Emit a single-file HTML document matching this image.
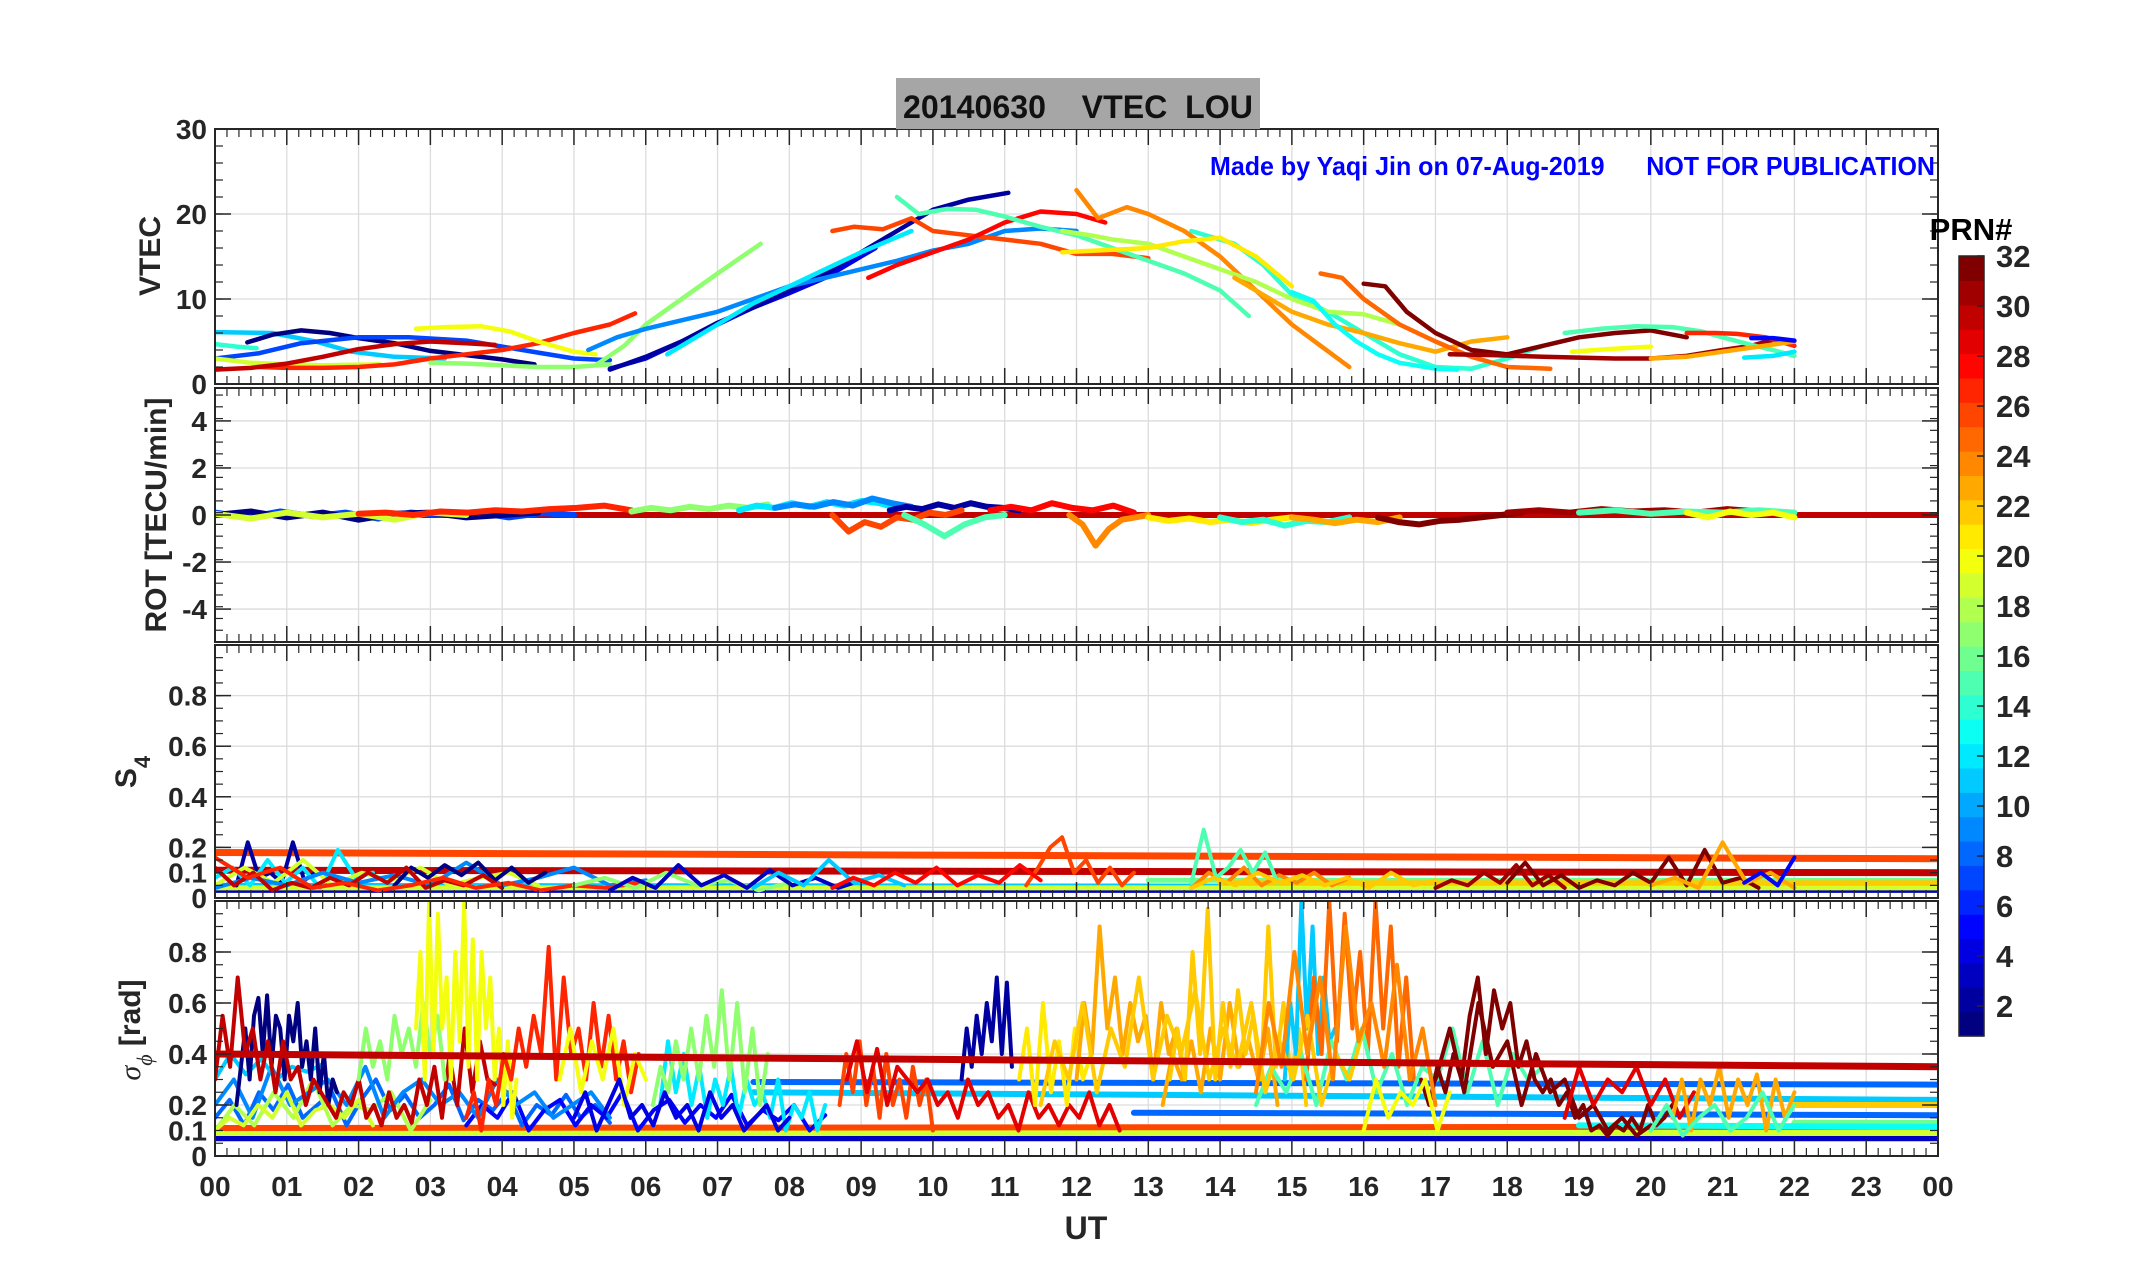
<!DOCTYPE html>
<html><head><meta charset="utf-8">
<style>
html,body{margin:0;padding:0;background:#fff;}
svg{display:block;font-family:"Liberation Sans",Arial,sans-serif;}
</style></head>
<body>
<svg id="fig" width="2153" height="1286" viewBox="0 0 2153 1286" xmlns="http://www.w3.org/2000/svg">
<rect x="0" y="0" width="2153" height="1286" fill="#fff"/>
<g id="grid"></g>
<g id="marks"></g>
<g id="axes"></g>
<rect x="896" y="78" width="364" height="51" fill="#a6a6a6"/>
<text x="903" y="118" font-size="32" font-weight="bold" fill="#111" textLength="350" lengthAdjust="spacingAndGlyphs" xml:space="preserve">20140630    VTEC  LOU</text>
<text x="1210" y="175" font-size="26" font-weight="bold" fill="#0000ff" textLength="725" lengthAdjust="spacingAndGlyphs" xml:space="preserve">Made by Yaqi Jin on 07-Aug-2019      NOT FOR PUBLICATION</text>
<text transform="translate(160,256) rotate(-90)" text-anchor="middle" font-size="30" font-weight="bold" fill="#262626">VTEC</text>
<text transform="translate(166,515) rotate(-90)" text-anchor="middle" font-size="30" font-weight="bold" fill="#262626">ROT [TECU/min]</text>
<text transform="translate(136,772) rotate(-90)" text-anchor="middle" font-size="30" font-weight="bold" fill="#262626">S<tspan font-size="22" dy="14">4</tspan></text>
<text transform="translate(140,1030) rotate(-90)" text-anchor="middle" font-size="30" font-weight="bold" fill="#262626"><tspan font-style="italic" font-weight="normal" font-family="Liberation Serif,serif">σ</tspan><tspan font-size="22" dy="12" font-style="italic" font-weight="normal" font-family="Liberation Serif,serif">ϕ</tspan><tspan dy="-12"> [rad]</tspan></text>
<text x="1086" y="1239" text-anchor="middle" font-size="32" font-weight="bold" fill="#262626">UT</text>
<text x="1971" y="240" text-anchor="middle" font-size="31" font-weight="bold" fill="#000">PRN#</text>
<g id="cbar"></g>
</svg>
<script>
// ---------- data ----------
const hourTicks=[0,1,2,3,4,5,6,7,8,9,10,11,12,13,14,15,16,17,18,19,20,21,22,23,24];
const hourLabels=["00","01","02","03","04","05","06","07","08","09","10","11","12","13","14","15","16","17","18","19","20","21","22","23","00"];
const vtecTicks=[0,10,20,30];
const rotTicks=[-4,-2,0,2,4];
const s4Ticks=[0,0.1,0.2,0.4,0.6,0.8];
const s4TickLabels=["0","0.1","0.2","0.4","0.6","0.8"];
const sigTicks=[0,0.1,0.2,0.4,0.6,0.8];
const sigTickLabels=["0","0.1","0.2","0.4","0.6","0.8"];
const cbarTicks=[2,4,6,8,10,12,14,16,18,20,22,24,26,28,30,32];

// VTEC arcs: PRN, times (h), values (TECU)
const vtecPrn=[11,1,7,14,19,27,30,20,17,17,4,2,9,12,26,28,15,14,24,18,21,23,13,25,32,31,15,27,20,23,12,5];
const vtecT=[
[0,0.8,1.4,1.9,2.5,3.2],
[0.45,0.8,1.2,1.6,2,2.5,3,3.5,4,4.45],
[0,0.6,1.2,2,2.7,3.5,4,4.5,5,5.5],
[0,0.3,0.58],
[0,0.5,1,1.5,2.3],
[0.6,1,1.5,2,2.5,3,3.5,4,4.5,5,5.5,5.85],
[0,0.5,1,1.5,2,2.5,3,3.5,3.9],
[2.8,3.2,3.7,4.1,4.5,5,5.3],
[3,3.5,4,4.5,5,5.5],
[5.3,5.7,6,6.5,7,7.6],
[5.5,6,6.5,7,7.5,8,8.5,9,9.2],
[5.5,6,6.5,7,7.5,8,8.5,9,9.5,10,10.5,11.05],
[5.2,5.6,6,6.5,7,7.5,8,8.5,9,9.5,10,10.5,11,11.5,12],
[6.3,6.7,7,7.5,8,8.5,9,9.7],
[8.6,8.9,9.3,9.7,10,10.5,11,11.5,12,12.5,13],
[9.1,9.5,10,10.5,11,11.5,12,12.4],
[9.5,9.8,10.2,10.6,11,11.5,12,12.5,13,13.5,14,14.4],
[13.6,14.2,14.6,15,15.5,16,16.5,17,17.5,18,18.5],
[12,12.3,12.7,13,13.5,14,14.5,15,15.4,15.8],
[11.8,12.2,12.5,13,13.5,14,14.5,15,15.5,16,16.5],
[11.8,12.5,13,13.5,14,14.5,15],
[14.2,14.6,15,15.5,16,16.5,17,17.5,18],
[15,15.3,15.6,15.9,16.2,16.5,17,17.3],
[15.4,15.7,16,16.5,17,17.5,18,18.6],
[16,16.3,16.6,17,17.5,18,18.5,19,19.5,20,20.5],
[17.2,17.8,18.5,19,19.5,20,20.5,21,21.4,21.7],
[18.8,19.3,19.8,20.3,20.7,21,21.4,21.7,22],
[20.5,20.9,21.2,21.6,22],
[18.9,19.4,20],
[20,20.5,21,21.5,22],
[21.3,21.7,22],
[21.4,21.7,22]];
const vtecV=[
[6.1,6,5,3.8,3.2,3],
[4.9,5.8,6.3,6,5.4,4.8,3.9,3.4,2.9,2.3],
[3,3.6,4.8,5.5,5.5,5.1,4.4,3.7,3,2.8],
[4.7,4.4,4.2],
[3,2.5,2.3,2.2,2.3],
[2,1.9,1.9,2,2.3,3,3.5,4,4.8,6,7,8.3],
[1.7,1.9,2.4,3.2,4.1,4.7,5,4.8,4.6],
[6.5,6.7,6.8,6.2,5,3.8,3.5],
[2.5,2.4,2.2,2,2,2.3],
[2.2,4.5,7,10,13,16.5],
[1.8,3,5,7,9,10.7,12.5,15,16],
[1.7,3.2,5,7.2,9,11,13,15.5,18,20.5,21.7,22.5],
[4,5.5,6.5,7.5,8.5,10,11.5,12.5,13.5,14.5,15.7,16.5,18,18.3,18],
[3.5,5.5,7,9.5,11.5,13.5,15.5,18],
[18,18.5,18.2,19.5,18,17.5,17,16.5,15.3,15.3,14.8],
[12.5,14,15.5,17,19,20.3,20,19],
[22,20,20.6,20.5,19.7,18.5,17.5,16,14.5,13,11,8],
[18,16.5,14,10.5,8.5,6,3.5,2,1.8,3,4.5],
[22.8,19.5,20.8,20,18,15,11,7,4.5,2],
[18,17.5,17,16.5,15,13.5,12,10,8.5,8.2,7],
[15.5,15.8,16,16.8,17.2,15,11.5],
[12.5,10.5,8.5,7,6,4.8,3.8,5,5.5],
[10.8,9.8,7,5,3.5,2.5,1.8,1.7],
[13,12.5,10,7,5,3.2,2,1.8],
[11.8,11.5,8.5,6,4,3.5,4.5,5.5,6,6.3,5.5],
[3.5,3.4,3.2,3.1,3,3,3.3,4,4.5,5.2],
[6,6.5,6.8,6.7,6.2,5.5,4.6,4,3.3],
[6,6,5.9,5.5,4.5],
[3.8,4.1,4.4],
[3,3.2,3.8,4.4,5],
[3.1,3.3,3.8],
[5.4,5.4,5.1]];

// ROT arcs: PRN, start hour, end hour, values (TECU/min) evenly spaced
const rotPrn=[7,1,19,27,17,12,9,2,26,15,28,24,21,14,23,32,31,15,20];
const rotT0=[0,0,0,2,5.8,7.3,7.8,9.4,8.6,9.6,10.8,11.9,13,14,15,16.2,18,19,20.5];
const rotT1=[5,4.5,3.5,5.8,7.7,9.5,9.7,11.2,10.4,11,12.8,13,15,15.8,16.5,18.2,21.5,22,22];
const rotV=[
[0.1,-0.1,0.15,-0.05,0.1,-0.15,0.1,0,0.12,-0.1,0.08,0],
[0,0.15,-0.1,0.1,-0.2,0.05,0.1,-0.1,0,0.1],
[0.05,-0.15,0.1,-0.1,0.05,-0.2,0.1,0],
[0.05,0.1,0,0.15,0.1,0.2,0.15,0.25,0.3,0.4,0.2],
[0.15,0.3,0.2,0.35,0.25,0.4,0.3,0.45],
[0.2,0.4,0.3,0.5,0.35,0.55,0.4,0.6,0.5,0.3],
[0.3,0.45,0.35,0.55,0.4,0.7,0.5,0.35],
[0.2,0.35,0.25,0.45,0.3,0.5,0.35,0.3,0.2],
[0,-0.7,-0.3,-0.5,-0.1,-0.2,0.1,0,0.2],
[0,-0.4,-0.9,-0.4,-0.1,0],
[0.2,0.35,0.2,0.5,0.3,0.2,0.4,0.1],
[0,-0.4,-1.3,-0.6,-0.2,-0.1,0],
[-0.1,-0.25,-0.15,-0.3,-0.2,-0.35,-0.2,-0.1],
[-0.1,-0.3,-0.2,-0.45,-0.25,-0.3,-0.1],
[-0.1,-0.2,-0.35,-0.2,-0.3,-0.1],
[-0.1,-0.3,-0.4,-0.25,-0.2,-0.1,0,0.1],
[0.1,0.2,0.1,0.25,0.15,0.2,0.1,0.25,0.15],
[0.1,0.2,0.05,0.15,0.1,0.2,0.1],
[0.1,-0.1,0.15,0,0.1,-0.1]];
// ROT constant lines at zero: PRN
const rotFlatPrn=[16,30];

// S4 arcs
const s4Prn=[2,12,19,9,1,30,27,17,3,11,26,28,24,15,22,31,32,23,5];
const s4T0=[0.3,0,0,0,2.5,0,0,5,5.5,7.5,11.3,8.6,13.6,13.6,13.6,17,18,20,21.3];
const s4T1=[1.4,2.2,4.5,6,4.6,4,5.9,8,9,9.6,12.8,11.5,15.8,14.8,17,18.8,21.5,22,22];
const s4V=[
[0.05,0.22,0.08,0.1,0.06,0.22,0.07,0.1],
[0.08,0.12,0.05,0.15,0.06,0.12,0.04,0.19,0.08,0.1],
[0.05,0.12,0.06,0.15,0.05,0.1,0.07,0.12,0.05,0.08,0.1,0.05],
[0.04,0.08,0.05,0.1,0.06,0.09,0.05,0.14,0.05,0.08,0.12,0.05,0.07],
[0.05,0.12,0.08,0.13,0.09,0.14,0.07,0.12,0.06,0.1],
[0.12,0.05,0.1,0.03,0.06,0.04,0.08,0.05,0.1,0.06,0.12,0.04,0.07,0.05,0.09,0.04],
[0.16,0.08,0.12,0.04,0.06,0.03,0.05,0.08,0.04,0.06,0.03,0.05,0.04,0.06],
[0.05,0.08,0.04,0.1,0.05,0.07,0.03,0.06],
[0.03,0.08,0.04,0.13,0.05,0.09,0.04,0.11,0.05,0.08,0.04,0.07],
[0.04,0.1,0.05,0.15,0.06,0.09,0.05],
[0.05,0.12,0.2,0.24,0.1,0.15,0.06,0.12,0.05,0.1],
[0.04,0.08,0.05,0.1,0.06,0.12,0.05,0.09,0.06,0.13,0.07],
[0.04,0.1,0.06,0.12,0.05,0.09,0.06,0.1,0.05,0.08],
[0.06,0.27,0.08,0.12,0.19,0.1,0.18,0.06],
[0.04,0.08,0.05,0.1,0.06,0.09,0.05,0.08,0.04,0.1,0.05,0.07],
[0.04,0.07,0.05,0.1,0.06,0.13,0.05,0.09,0.04],
[0.06,0.14,0.05,0.09,0.04,0.07,0.05,0.1,0.06,0.16,0.05,0.19,0.06,0.08,0.04],
[0.05,0.08,0.04,0.22,0.06,0.1,0.04],
[0.06,0.1,0.05,0.16]];
// S4 straight lines: PRN, t0, v0, t1, v1
const s4LinePrn=[26,30,3,11,19,16,22];
const s4LineT0=[0,0,0,0,0,13,14];
const s4LineV0=[0.18,0.11,0.03,0.05,0.04,0.07,0.06];
const s4LineT1=[24,24,24,24,24,24,24];
const s4LineV1=[0.155,0.1,0.03,0.045,0.04,0.07,0.06];

// sigma-phi arcs
const sigPrn=[8,5,18,9,11,19,1,30,17,20,27,20,12,17,4,26,2,29,21,23,23,22,11,25,15,32,22,24,32,20,29,23,15];
const sigT0=[0,3.5,0,0,0,0,0.3,0,2,2.8,3.5,4.8,6.2,6.1,5,8.7,10.4,8.8,11.2,12,13.2,13.3,14.9,15.2,14.5,16.8,11.5,14.5,17,16,18.8,20.3,20,21];
const sigT1=[5.5,8.5,3,5.5,1.5,2.2,1.7,3.9,3.2,4.2,5.9,6,8.5,7.7,8,10,11.1,12.6,12.2,13.5,14.8,15.2,15.6,16.7,18.5,20.3,16,17,20,17.2,20.6,22,22,22];
const sigV=[
[0.15,0.22,0.12,0.25,0.18,0.28,0.15,0.2,0.25,0.12,0.22,0.3,0.18,0.24,0.15,0.2,0.28,0.14,0.22,0.18,0.25,0.12,0.2,0.16,0.24,0.15,0.2,0.13],
[0.12,0.2,0.15,0.25,0.1,0.18,0.22,0.12,0.2,0.15,0.25,0.1,0.18,0.22,0.13,0.2,0.15,0.24,0.12,0.18,0.14,0.2,0.1,0.16],
[0.1,0.2,0.12,0.25,0.15,0.3,0.12,0.2,0.18,0.25,0.1,0.22],
[0.2,0.3,0.15,0.35,0.2,0.25,0.3,0.2,0.35,0.15,0.25,0.3,0.2,0.25,0.15,0.3,0.2,0.25,0.15,0.2,0.25,0.15],
[0.3,0.4,0.32,0.38,0.3,0.35,0.33,0.36],
[0.1,0.15,0.12,0.2,0.15,0.25,0.12,0.18,0.2,0.15,0.22,0.12],
[0.2,0.35,0.5,0.3,0.55,0.62,0.4,0.63,0.35,0.55,0.5,0.3,0.55,0.45,0.6,0.35,0.45,0.3,0.5,0.25,0.4,0.2,0.3,0.25],
[0.3,0.55,0.35,0.7,0.4,0.5,0.3,0.45,0.25,0.45,0.3,0.35,0.2,0.3,0.25,0.2,0.15,0.25,0.2,0.3,0.15,0.2,0.12,0.25,0.15,0.2,0.13,0.3,0.2,0.35,0.15,0.4,0.2,0.5,0.25,0.45,0.3,0.28],
[0.3,0.5,0.35,0.45,0.3,0.55,0.4,0.5,0.35,0.6,0.4,0.55,0.3],
[0.5,0.8,0.3,1.0,0.4,0.95,0.5,0.7,0.3,0.8,0.45,1.0,0.35,0.85,0.3,0.8,0.5,0.7,0.3,0.5,0.2,0.45,0.15,0.3],
[0.15,0.25,0.1,0.3,0.2,0.4,0.3,0.5,0.35,0.55,0.4,0.82,0.3,0.7,0.4,0.5,0.3,0.6,0.35,0.55,0.3,0.45,0.25,0.4],
[0.3,0.5,0.25,0.45,0.3,0.5,0.2,0.4,0.3],
[0.2,0.45,0.25,0.4,0.2,0.35,0.15,0.3,0.2,0.35,0.15,0.3,0.2,0.25,0.15,0.3,0.1,0.2,0.15,0.25,0.1,0.2],
[0.2,0.35,0.25,0.45,0.3,0.5,0.3,0.55,0.35,0.65,0.3,0.6,0.25,0.5,0.2,0.4],
[0.15,0.25,0.1,0.2,0.3,0.15,0.2,0.12,0.25,0.15,0.2,0.1,0.25,0.15,0.2,0.1,0.15,0.2,0.1,0.15],
[0.2,0.4,0.25,0.45,0.2,0.35,0.15,0.4,0.2,0.3,0.15,0.35,0.2,0.3,0.1],
[0.3,0.5,0.35,0.55,0.4,0.6,0.45,0.7,0.4,0.68,0.35],
[0.3,0.45,0.25,0.42,0.2,0.35,0.3,0.25,0.3,0.2,0.25,0.15,0.3,0.2,0.25,0.15,0.2,0.1,0.25,0.15,0.2,0.12,0.2,0.15,0.25,0.12,0.2,0.1],
[0.3,0.5,0.2,0.6,0.25,0.45,0.2,0.5,0.3,0.4],
[0.3,0.6,0.4,0.9,0.5,0.7,0.4,0.6,0.45,0.55,0.3,0.6,0.4,0.5,0.3],
[0.2,0.4,0.3,0.45,0.25,0.5,0.3,0.6,0.35,0.45,0.3,0.5,0.2],
[0.3,0.5,0.3,0.8,0.4,0.97,0.3,0.6,0.35,0.65,0.4,0.55,0.3,0.9,0.35,0.6,0.3,0.5,0.2],
[0.3,0.6,0.4,1.0,0.5,0.9,0.4,0.7,0.45,0.5],
[0.3,0.7,0.4,1.0,0.45,0.95,0.5,0.8,0.4,1.0,0.5,0.9,0.35,0.7,0.3],
[0.2,0.35,0.25,0.4,0.2,0.45,0.3,0.5,0.25,0.4,0.2,0.35,0.3,0.5,0.25,0.45,0.2,0.4,0.3,0.35],
[0.3,0.2,0.35,0.25,0.4,0.3,0.55,0.7,0.4,0.65,0.5,0.6,0.35,0.45,0.3,0.25,0.3,0.2,0.25,0.15,0.2,0.1,0.12,0.08,0.12,0.1,0.15,0.1,0.2,0.12,0.15,0.2],
[0.2,0.45,0.3,0.6,0.25,0.5,0.35,0.7,0.3,0.55,0.4,0.65,0.3,0.5,0.35,0.6,0.25,0.45,0.3,0.55,0.2,0.4,0.3,0.5],
[0.25,0.6,0.35,0.8,0.4,0.7,0.3,0.9,0.45,0.6,0.35,0.75,0.3,0.5,0.2],
[0.3,0.5,0.25,0.6,0.35,0.45,0.2,0.4,0.25,0.3,0.15,0.2,0.1,0.15,0.08,0.12],
[0.1,0.3,0.15,0.25,0.2,0.3,0.1,0.25],
[0.15,0.35,0.2,0.3,0.25,0.35,0.2,0.3,0.15,0.25],
[0.15,0.3,0.1,0.3,0.2,0.35,0.15,0.3,0.2,0.32,0.1,0.3,0.15,0.25],
[0.1,0.2,0.08,0.15,0.2,0.1,0.15,0.25,0.1,0.2],
[0.2,0.4,0.25,0.45,0.3,0.2]];
// sigma straight lines
const sigLinePrn=[3,19,26,8,11,8,22,16,13,30];
const sigLineT0=[0,0,0,7.5,7.5,12.8,22,22,19,0];
const sigLineV0=[0.07,0.09,0.11,0.29,0.25,0.17,0.2,0.13,0.12,0.40];
const sigLineT1=[24,24,24,24,24,24,24,24,24,24];
const sigLineV1=[0.07,0.09,0.115,0.28,0.22,0.16,0.2,0.13,0.115,0.35];

// ---------- geometry ----------
const X0=215,X1=1938;
function xh(h){return X0+(X1-X0)*h/24;}
const P={
 vtec:{top:129,bot:384,min:0,max:30},
 rot:{top:388,bot:642,min:-5.4,max:5.4},
 s4:{top:645,bot:898,min:0,max:1},
 sig:{top:901,bot:1156,min:0,max:1}};
function yv(p,v){return p.bot-(v-p.min)/(p.max-p.min)*(p.bot-p.top);}
function jet(t){const c=x=>Math.round(255*Math.max(0,Math.min(1,x)));
 return `rgb(${c(1.5-Math.abs(4*t-3))},${c(1.5-Math.abs(4*t-2))},${c(1.5-Math.abs(4*t-1))})`;}
function prnColor(p){return jet((p-1)/31);}
const NS="http://www.w3.org/2000/svg";
function mk(tag,attrs,parent){const e=document.createElementNS(NS,tag);for(const k in attrs)e.setAttribute(k,attrs[k]);parent.appendChild(e);return e;}
const gGrid=document.getElementById('grid'),gMarks=document.getElementById('marks'),gAxes=document.getElementById('axes'),gC=document.getElementById('cbar');

// ---------- axes ----------
function panelAxes(name,p,ticks,labels,minorStep){
 const box=mk('rect',{x:X0,y:p.top,width:X1-X0,height:p.bot-p.top,fill:'none',stroke:'#262626','stroke-width':2},gAxes);
 
 
 hourTicks.forEach(h=>{
  const gl=mk('line',{x1:xh(h),x2:xh(h),y1:p.top,y2:p.bot,stroke:'#dcdcdc','stroke-width':1.3},gGrid);
  
  
  const t1=mk('line',{x1:xh(h),x2:xh(h),y1:p.bot,y2:p.bot-16,stroke:'#262626','stroke-width':1.5},gAxes);
  
  
  const t2=mk('line',{x1:xh(h),x2:xh(h),y1:p.top,y2:p.top+16,stroke:'#262626','stroke-width':1.5},gAxes);
  
  
 });
 for(let m=0;m<144;m++){if(m%6===0)continue;const x=xh(m/6);
  const a=mk('line',{x1:x,x2:x,y1:p.bot,y2:p.bot-8,stroke:'#262626','stroke-width':1.2},gAxes);
  
  
  const b=mk('line',{x1:x,x2:x,y1:p.top,y2:p.top+8,stroke:'#262626','stroke-width':1.2},gAxes);
  
  }
 for(let v=p.min;v<=p.max+1e-9;v+=minorStep){const y=yv(p,v);
  const a=mk('line',{x1:X0,x2:X0+8,y1:y,y2:y,stroke:'#262626','stroke-width':1.2},gAxes);
  
  
  const b=mk('line',{x1:X1,x2:X1-8,y1:y,y2:y,stroke:'#262626','stroke-width':1.2},gAxes);
  
  }
 ticks.forEach((v,i)=>{const y=yv(p,v);
  if(v!==p.min){const gl=mk('line',{x1:X0,x2:X1,y1:y,y2:y,stroke:'#dcdcdc','stroke-width':1.3},gGrid);
   
   }
  const a=mk('line',{x1:X0,x2:X0+16,y1:y,y2:y,stroke:'#262626','stroke-width':1.5},gAxes);
  
  
  const b=mk('line',{x1:X1,x2:X1-16,y1:y,y2:y,stroke:'#262626','stroke-width':1.5},gAxes);
  
  
  const t=mk('text',{x:X0-8,y:y+10,'text-anchor':'end','font-size':28,'font-weight':'bold',fill:'#262626'},gAxes);
  t.textContent=labels[i];
  
  
 });
}
panelAxes('vtec',P.vtec,vtecTicks,vtecTicks.map(String),2);
panelAxes('rot',P.rot,rotTicks,rotTicks.map(String),0.5);
panelAxes('s4',P.s4,s4Ticks.filter(v=>v!==0.1),s4TickLabels.filter(s=>s!=="0.1"),0.05);
panelAxes('sig',P.sig,sigTicks.filter(v=>v!==0.1),sigTickLabels.filter(s=>s!=="0.1"),0.05);
[[P.s4,0.1],[P.sig,0.1]].forEach(([p,v])=>{const t=mk('text',{x:X0-8,y:yv(p,v)+10,'text-anchor':'end','font-size':28,'font-weight':'bold',fill:'#262626'},gAxes);
 t.textContent='0.1';
 
 });
hourTicks.forEach((h,i)=>{const t=mk('text',{x:xh(h),y:1196,'text-anchor':'middle','font-size':28,'font-weight':'bold',fill:'#262626'},gAxes);
 t.textContent=hourLabels[i];
 
 });

// ---------- marks ----------
function clipFor(p,id){const cp=mk('clipPath',{id:id},gMarks);mk('rect',{x:X0,y:p.top,width:X1-X0,height:p.bot-p.top},cp);return 'url(#'+id+')';}
function poly(p,ts,vs,prn,w,name,clip){const pts=ts.map((t,i)=>xh(t).toFixed(1)+','+yv(p,Math.min(vs[i],p.max)).toFixed(1)).join(' ');
 const e=mk('polyline',{points:pts,fill:'none',stroke:prnColor(prn),'stroke-width':w,'stroke-linejoin':'round','stroke-linecap':'round','clip-path':clip},gMarks);
 
 }
function evenT(t0,t1,n){const a=[];for(let i=0;i<n;i++)a.push(t0+(t1-t0)*(n===1?0:i/(n-1)));return a;}

const cV=clipFor(P.vtec,'cv'),cR=clipFor(P.rot,'cr'),cS=clipFor(P.s4,'cs'),cG=clipFor(P.sig,'cg');
vtecPrn.forEach((prn,i)=>poly(P.vtec,vtecT[i],vtecV[i],prn,4.5,'vtec-line-prn'+prn,cV));

rotFlatPrn.forEach(prn=>poly(P.rot,[0,24],[0,0],prn,6,'rot-zero-line-prn'+prn,cR));
rotPrn.forEach((prn,i)=>poly(P.rot,evenT(rotT0[i],rotT1[i],rotV[i].length),rotV[i],prn,6,'rot-line-prn'+prn,cR));

s4LinePrn.forEach((prn,i)=>poly(P.s4,[s4LineT0[i],s4LineT1[i]],[s4LineV0[i],s4LineV1[i]],prn,prn>=26?7:5,'s4-trend-line-prn'+prn,cS));
s4Prn.forEach((prn,i)=>poly(P.s4,evenT(s4T0[i],s4T1[i],s4V[i].length),s4V[i],prn,4,'s4-line-prn'+prn,cS));

sigLinePrn.forEach((prn,i)=>{if(prn!==30)poly(P.sig,[sigLineT0[i],sigLineT1[i]],[sigLineV0[i],sigLineV1[i]],prn,6,'sigma-trend-line-prn'+prn,cG);});
sigPrn.forEach((prn,i)=>poly(P.sig,evenT(sigT0[i],sigT1[i],sigV[i].length),sigV[i],prn,4,'sigma-line-prn'+prn,cG));
sigLinePrn.forEach((prn,i)=>{if(prn===30)poly(P.sig,[sigLineT0[i],sigLineT1[i]],[sigLineV0[i],sigLineV1[i]],prn,7,'sigma-trend-line-prn'+prn,cG);});

// ---------- colorbar ----------
const CB={x:1959,w:25,top:256,lo:0.8,hi:32,pxPerUnit:25};
function ycb(v){return CB.top+(CB.hi-v)*CB.pxPerUnit;}
const nb=32,bh=(CB.hi-CB.lo)*CB.pxPerUnit/nb;
for(let i=0;i<nb;i++){const r=mk('rect',{x:CB.x,y:ycb(CB.lo)-(i+1)*bh,width:CB.w,height:bh+0.6,fill:jet(i/(nb-1))},gC);
 
 }
const cbb=mk('rect',{x:CB.x,y:CB.top,width:CB.w,height:(CB.hi-CB.lo)*CB.pxPerUnit,fill:'none',stroke:'#262626','stroke-width':1.5},gC);


cbarTicks.forEach(v=>{const y=ycb(v);
 const l=mk('line',{x1:CB.x+CB.w-7,x2:CB.x+CB.w,y1:y,y2:y,stroke:'#262626','stroke-width':1.5},gC);
 
 
 const t=mk('text',{x:CB.x+CB.w+12,y:y+11,'font-size':31,'font-weight':'bold',fill:'#262626'},gC);
 t.textContent=String(v);
 
 });
</script>
</body></html>
